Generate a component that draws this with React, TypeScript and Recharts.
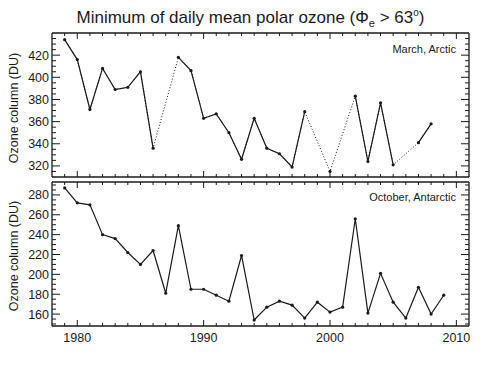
import { LineChart, Line, XAxis, YAxis } from 'recharts';

const years = [
  1979, 1980, 1981, 1982, 1983, 1984, 1985, 1986, 1987, 1988, 1989, 1990, 1991, 1992, 1993, 1994,
  1995, 1996, 1997, 1998, 1999, 2000, 2001, 2002, 2003, 2004, 2005, 2006, 2007, 2008, 2009,
];

// March minimum, Arctic (null = no value that year)
const arcticMarch = [
  434, 416, 371, 408, 389, 391, 405, 336, null, 418, 406, 363, 367, 350, 326, 363,
  336, 331, 319, 369, null, 315, null, 383, 324, 377, 321, null, 341, 358, null,
];

// October minimum, Antarctic
const antarcticOctober = [
  287, 272, 270, 240, 236, 222, 210, 224, 181, 249, 185, 185, 179, 173, 219, 154,
  167, 173, 169, 156, 172, 162, 167, 256, 161, 201, 172, 156, 187, 160, 179,
];

const yearDomain: [number, number] = [1978, 2011];
const arcticDomain: [number, number] = [310, 440];
const antarcticDomain: [number, number] = [148, 293];
const arcticLabels = [320, 340, 360, 380, 400, 420];
const antarcticLabels = [160, 180, 200, 220, 240, 260, 280];
const decadeLabels = [1980, 1990, 2000, 2010];

const arcticData = years.map((year, i) => ({ year, value: arcticMarch[i] }));
const antarcticData = years.map((year, i) => ({ year, value: antarcticOctober[i] }));

const FONT = '"Liberation Sans", Arial, Helvetica, sans-serif';
const INK = '#1a1a1a';

function steps(from: number, to: number, step: number) {
  const out: number[] = [];
  for (let v = from; v <= to; v += step) out.push(v);
  return out;
}

const yearTicks = steps(1979, 2010, 1);

function makeYTick(side: 'left' | 'right', labels: number[]) {
  return (props: any) => {
    const { x, y, payload } = props;
    const v = payload.value;
    const major = v % 20 === 0;
    const len = major ? 8 : 4;
    const dir = side === 'left' ? 1 : -1;
    return (
      <g>
        <line x1={x} x2={x + dir * len} y1={y} y2={y} stroke={INK} strokeWidth={1} />
        {side === 'left' && labels.includes(v) && (
          <text x={x - 3} y={y} dy="0.36em" textAnchor="end" fontSize={12.5} fontFamily={FONT} fill={INK}>
            {v}
          </text>
        )}
      </g>
    );
  };
}

function makeXTick(side: 'top' | 'bottom', showLabels: boolean) {
  return (props: any) => {
    const { x, y, payload } = props;
    const v = payload.value;
    const major = v % 10 === 0;
    const len = major ? 6 : 3;
    const dir = side === 'bottom' ? -1 : 1;
    return (
      <g>
        <line x1={x} x2={x} y1={y} y2={y + dir * len} stroke={INK} strokeWidth={1} />
        {showLabels && decadeLabels.includes(v) && (
          <text x={x} y={y + 16} textAnchor="middle" fontSize={12.5} fontFamily={FONT} fill={INK}>
            {v}
          </text>
        )}
      </g>
    );
  };
}

function Panel({
  data,
  domain,
  labels,
  top,
  bottom,
  xLabels,
  gaps,
}: {
  data: { year: number; value: number | null }[];
  domain: [number, number];
  labels: number[];
  top: number;
  bottom: number;
  xLabels: boolean;
  gaps: boolean;
}) {
  const yTicks = steps(Math.ceil((domain[0] + 1) / 5) * 5, domain[1] - 1, 5);
  const axisLine = { stroke: INK, strokeWidth: 1.3 };
  // axes of size 0 are not drawn, so the "empty" sides get 1px
  return (
    <div style={{ position: 'absolute', left: 0, top: 0 }}>
      <LineChart width={485} height={381} data={data} margin={{ top, right: 15, bottom, left: 2 }}>
        <XAxis
          dataKey="year"
          type="number"
          domain={yearDomain}
          ticks={yearTicks}
          interval={0}
          allowDataOverflow
          height={xLabels ? 20 : 1}
          tickSize={0}
          tickMargin={0}
          tickLine={false}
          axisLine={axisLine}
          tick={makeXTick('bottom', xLabels)}
        />
        <XAxis
          xAxisId="top"
          dataKey="year"
          type="number"
          orientation="top"
          domain={yearDomain}
          ticks={yearTicks}
          interval={0}
          allowDataOverflow
          height={1}
          tickSize={0}
          tickMargin={0}
          tickLine={false}
          axisLine={axisLine}
          tick={makeXTick('top', false)}
        />
        <YAxis
          type="number"
          domain={domain}
          ticks={yTicks}
          interval={0}
          allowDataOverflow
          width={50}
          tickSize={0}
          tickMargin={0}
          tickLine={false}
          axisLine={axisLine}
          tick={makeYTick('left', labels)}
        />
        <YAxis
          yAxisId="right"
          orientation="right"
          type="number"
          domain={domain}
          ticks={yTicks}
          interval={0}
          allowDataOverflow
          width={1}
          tickSize={0}
          tickMargin={0}
          tickLine={false}
          axisLine={axisLine}
          tick={makeYTick('right', labels)}
        />
        {gaps && (
          <Line
            type="linear"
            dataKey="value"
            connectNulls
            stroke={INK}
            strokeWidth={1}
            strokeDasharray="1 2"
            dot={false}
            isAnimationActive={false}
          />
        )}
        <Line
          type="linear"
          dataKey="value"
          connectNulls={false}
          stroke={INK}
          strokeWidth={1.2}
          dot={{ r: 1.6, fill: INK, stroke: 'none' }}
          isAnimationActive={false}
        />
      </LineChart>
    </div>
  );
}

export default function App() {
  return (
    <div style={{ position: 'fixed', left: 0, top: 0, width: 485, height: 381, background: '#fff' }}>
      <Panel data={arcticData} domain={arcticDomain} labels={arcticLabels} top={32} bottom={203} xLabels={false} gaps />
      <Panel
        data={antarcticData}
        domain={antarcticDomain}
        labels={antarcticLabels}
        top={181}
        bottom={35}
        xLabels
        gaps={false}
      />
      <svg width={485} height={381} style={{ position: 'absolute', left: 0, top: 0, pointerEvents: 'none' }}>
        <text x={250.5} y={23} textAnchor="middle" fontSize={17} fontFamily={FONT} fill={INK}>
          <tspan>Minimum of daily mean polar ozone (Φ</tspan>
          <tspan dy={4} fontSize={11}>e</tspan>
          <tspan dy={-4}> &gt; 63</tspan>
          <tspan dy={-7} fontSize={10}>o</tspan>
          <tspan dy={7}>)</tspan>
        </text>
        <text
          x={18}
          y={108}
          transform="rotate(-90 18 108)"
          textAnchor="middle"
          fontSize={12.5}
          fontFamily={FONT}
          fill={INK}
        >
          Ozone column (DU)
        </text>
        <text
          x={18}
          y={256}
          transform="rotate(-90 18 256)"
          textAnchor="middle"
          fontSize={12.5}
          fontFamily={FONT}
          fill={INK}
        >
          Ozone column (DU)
        </text>
        <text x={456} y={53} textAnchor="end" fontSize={11} fontFamily={FONT} fill={INK}>
          March, Arctic
        </text>
        <text x={456} y={201} textAnchor="end" fontSize={11} fontFamily={FONT} fill={INK}>
          October, Antarctic
        </text>
      </svg>
    </div>
  );
}
